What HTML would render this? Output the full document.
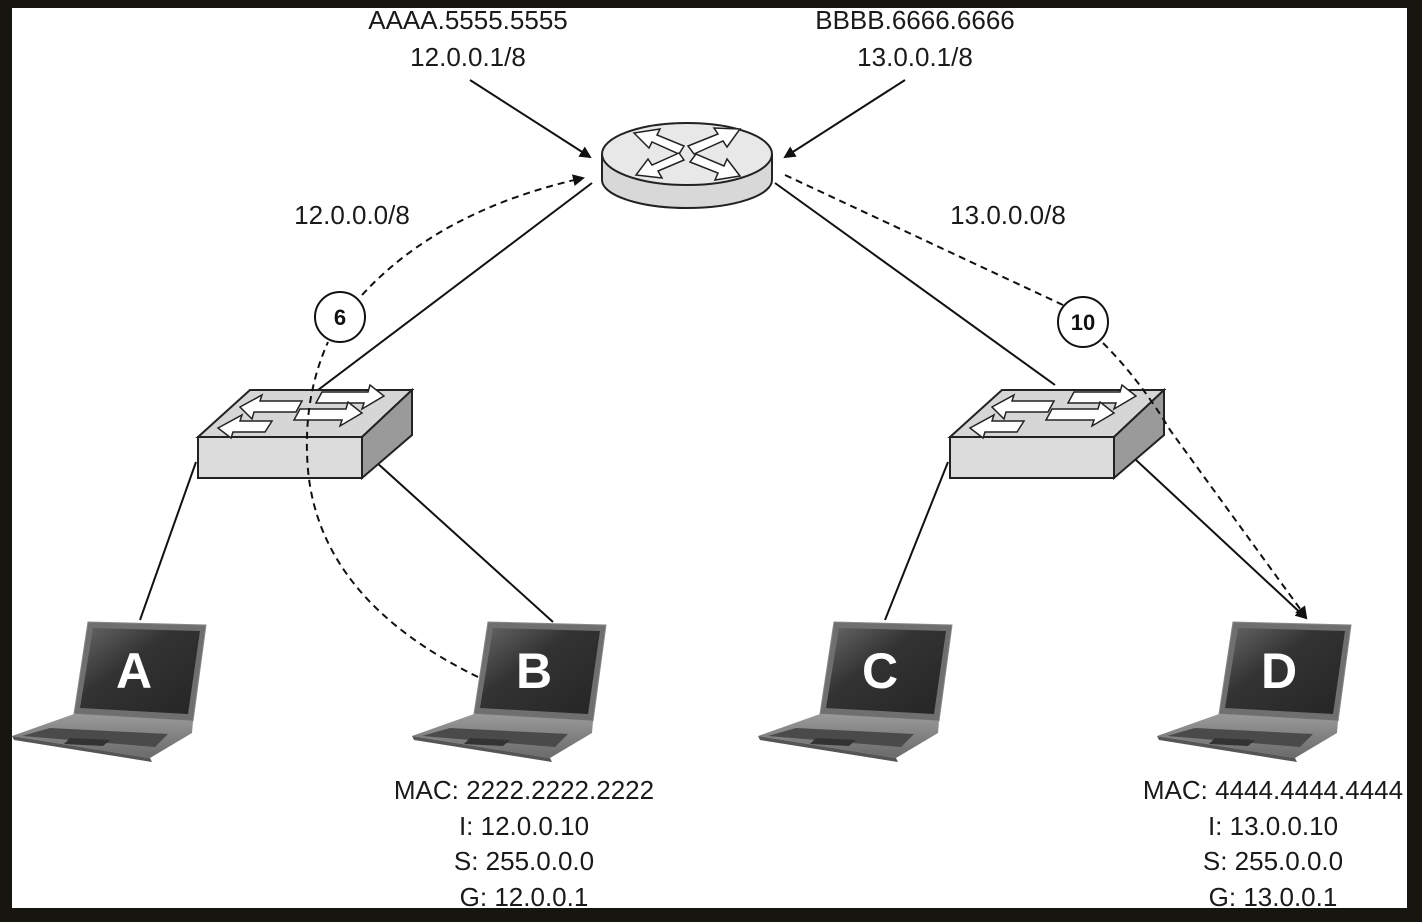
<!DOCTYPE html>
<html><head><meta charset="utf-8"><style>
html,body{margin:0;padding:0;background:#16150f;}
svg{display:block;}
text{font-family:"Liberation Sans",sans-serif;}
</style></head><body>
<svg width="1422" height="922" viewBox="0 0 1422 922" xmlns="http://www.w3.org/2000/svg">
<defs>
<marker id="ar" markerWidth="12" markerHeight="12" refX="10" refY="6" orient="auto" markerUnits="userSpaceOnUse">
<path d="M0,0 L12,6 L0,12 z" fill="#111"/></marker>
<linearGradient id="scr" x1="0" y1="0" x2="1" y2="1"><stop offset="0" stop-color="#666"/><stop offset="0.4" stop-color="#333"/><stop offset="1" stop-color="#252525"/></linearGradient>
<linearGradient id="base" x1="0" y1="0" x2="0" y2="1"><stop offset="0" stop-color="#9a9a9a"/><stop offset="1" stop-color="#6a6a6a"/></linearGradient>
<g id="lap">
<polygon points="88,622 206,625 193,721 74,714" fill="#6f6f6f" stroke="#888" stroke-width="1"/>
<polygon points="93,628 200,631 188,714 80,708" fill="url(#scr)"/>
<polygon points="74,714 193,721 192,733 150,758 12,736" fill="url(#base)"/>
<polygon points="50,728 168,734 155,747 22,736" fill="#4a4a4a"/>
<polygon points="70,738 110,740 103,746 64,744" fill="#333"/>
<polygon points="12,736 150,758 152,762 14,740" fill="#555"/>
</g>
<g id="sw">
<polygon points="198,437 250,390 412,390 362,437" fill="#d6d6d6" stroke="#222" stroke-width="2"/>
<polygon points="198,437 362,437 362,478 198,478" fill="#dcdcdc" stroke="#222" stroke-width="2"/>
<polygon points="362,437 412,390 412,435 362,478" fill="#9a9a9a" stroke="#222" stroke-width="2"/>
<g fill="#fff" stroke="#222" stroke-width="1.5">
<polygon points="240,407 262,395 260,401 302,401 296,412 254,412 252,419"/>
<polygon points="218,428 242,415 240,421 272,421 265,432 233,432 231,438"/>
<polygon points="384,396 362,409 364,403 316,403 322,392 368,392 370,385"/>
<polygon points="362,413 340,426 342,420 294,420 300,409 346,409 348,402"/>
</g>
</g>
</defs>
<rect x="12" y="8" width="1395" height="900" fill="#fff"/>

<g stroke="#111" stroke-width="2" fill="none">
<line x1="592" y1="183" x2="318" y2="390"/>
<line x1="775" y1="183" x2="1055" y2="385"/>
<line x1="196" y1="462" x2="140" y2="620"/>
<line x1="376" y1="462" x2="553" y2="622"/>
<line x1="948" y1="462" x2="885" y2="620"/>
<line x1="1136" y1="460" x2="1306" y2="618" marker-end="url(#ar)"/>
<line x1="470" y1="80" x2="590" y2="157" marker-end="url(#ar)"/>
<line x1="905" y1="80" x2="785" y2="157" marker-end="url(#ar)"/>
</g>

<path d="M602,154 L602,180 A85,28 0 0 0 772,180 L772,154" fill="#d8d8d8" stroke="#222" stroke-width="2"/>
<ellipse cx="687" cy="154" rx="85" ry="31" fill="#e8e8e8" stroke="#222" stroke-width="2"/>
<g fill="#fff" stroke="#222" stroke-width="1.5">
<polygon points="634,133 660,129 657,135 684,146 679,154 652,142 649,148"/>
<polygon points="740,129 714,128 718,134 688,146 694,154 723,141 727,147"/>
<polygon points="636,175 662,178 658,171 684,160 679,153 652,165 648,159"/>
<polygon points="740,176 715,180 718,173 690,162 696,154 724,166 727,159"/>
</g>

<use href="#sw"/>
<use href="#sw" transform="translate(752,0)"/>

<use href="#lap"/>
<use href="#lap" transform="translate(400,0)"/>
<use href="#lap" transform="translate(746,0)"/>
<use href="#lap" transform="translate(1145,0)"/>

<g fill="#fff" font-weight="bold" font-size="50" text-anchor="middle">
<text x="134" y="688">A</text>
<text x="534" y="688">B</text>
<text x="880" y="688">C</text>
<text x="1279" y="688">D</text>
</g>

<g stroke="#111" stroke-width="2" fill="none" stroke-dasharray="7,5">
<path d="M478,677 Q320,600 308,470 Q302,400 328,342"/>
<path d="M362,295 Q440,210 583,178" marker-end="url(#ar)"/>
<path d="M785,175 L1063,305"/>
<path d="M1103,343 Q1140,380 1170,430 L1306,617" marker-end="url(#ar)"/>
</g>
<circle cx="340" cy="317" r="25" fill="#fff" stroke="#111" stroke-width="2"/>
<circle cx="1083" cy="322" r="25" fill="#fff" stroke="#111" stroke-width="2"/>
<g font-weight="bold" font-size="22" text-anchor="middle" fill="#111">
<text x="340" y="325">6</text>
<text x="1083" y="330">10</text>
</g>

<g font-size="26" fill="#1a1a1a" text-anchor="middle">
<text x="468" y="29">AAAA.5555.5555</text>
<text x="468" y="66">12.0.0.1/8</text>
<text x="915" y="29">BBBB.6666.6666</text>
<text x="915" y="66">13.0.0.1/8</text>
<text x="352" y="224">12.0.0.0/8</text>
<text x="1008" y="224">13.0.0.0/8</text>
<text x="524" y="799">MAC: 2222.2222.2222</text>
<text x="524" y="835">I: 12.0.0.10</text>
<text x="524" y="870">S: 255.0.0.0</text>
<text x="524" y="906">G: 12.0.0.1</text>
<text x="1273" y="799">MAC: 4444.4444.4444</text>
<text x="1273" y="835">I: 13.0.0.10</text>
<text x="1273" y="870">S: 255.0.0.0</text>
<text x="1273" y="906">G: 13.0.0.1</text>
</g>
<rect x="0" y="0" width="1422" height="8" fill="#16150f"/>
<rect x="0" y="908" width="1422" height="14" fill="#16150f"/>
<rect x="0" y="0" width="12" height="922" fill="#16150f"/>
<rect x="1407" y="0" width="15" height="922" fill="#16150f"/>
</svg>
</body></html>
